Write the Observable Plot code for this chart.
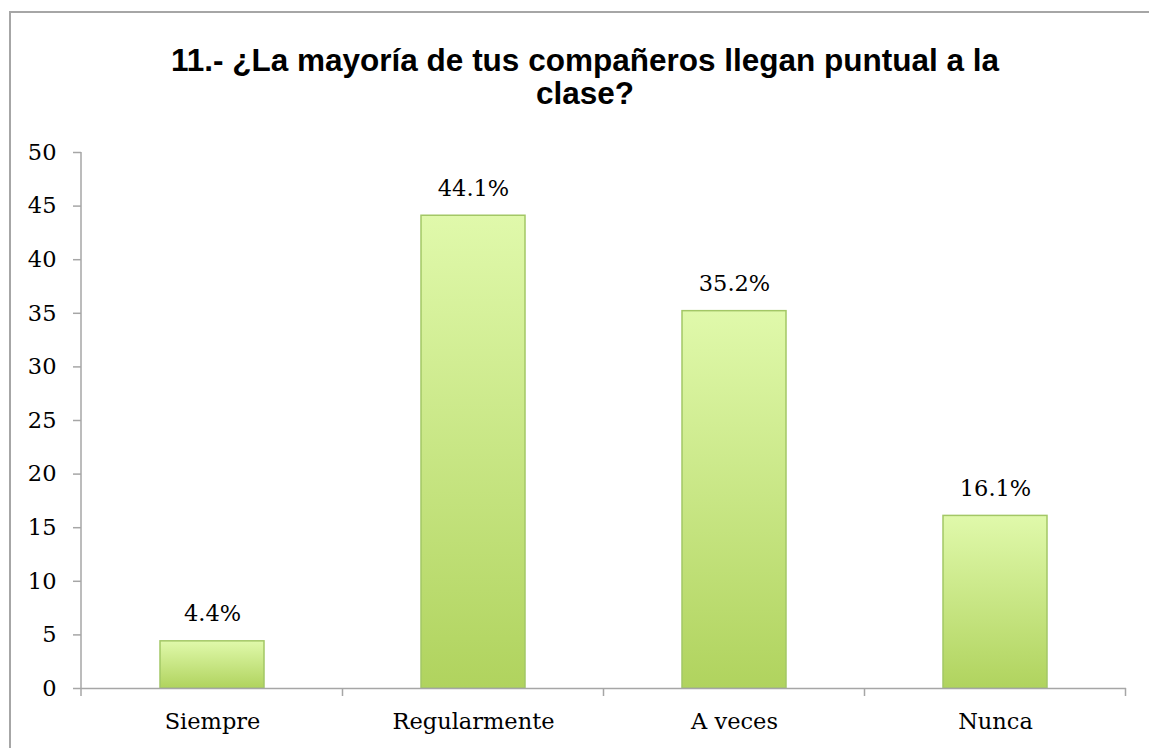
<!DOCTYPE html>
<html>
<head>
<meta charset="utf-8">
<script src="https://cdn.jsdelivr.net/npm/d3@7"></script>
<script src="https://cdn.jsdelivr.net/npm/@observablehq/plot@0.6"></script>
<style>
  html, body { margin: 0; padding: 0; background: #fff; }
  #wrap { position: relative; width: 1149px; height: 748px; overflow: hidden; background: #fff; }
  #frame { position: absolute; left: 9px; top: 11px; width: 1200px; height: 800px; border: 2px solid #a6a6a6; box-sizing: border-box; }
  #title { position: absolute; left: 0; top: 44px; width: 1170px; text-align: center;
           font-family: "Liberation Sans", Arial, sans-serif; font-weight: bold; font-size: 31.5px; line-height: 33px; color: #000; }
  #chart { position: absolute; left: 0; top: 130px; }
</style>
</head>
<body>
<div id="wrap">
  <div id="frame"></div>
  <div id="title">11.- ¿La mayoría de tus compañeros llegan puntual a la<br>clase?</div>
  <div id="chart"></div>
</div>
<script>
const categories = ["Siempre", "Regularmente", "A veces", "Nunca"];
const values = [4.4, 44.1, 35.2, 16.1];
const yTicks = [0, 5, 10, 15, 20, 25, 30, 35, 40, 45, 50];

const data = categories.map((c, i) => ({category: c, value: values[i]}));
const axisColor = "#a6a6a6";

// gradient definitions for bars
function defs() {
  const svg = d3.create("svg:g");
  const d = svg.append("defs");
  const g = d.append("linearGradient").attr("id", "barGrad")
    .attr("x1", 0).attr("y1", 0).attr("x2", 0).attr("y2", 1);
  g.append("stop").attr("offset", "0%").attr("stop-color", "#e0f9ab");
  g.append("stop").attr("offset", "100%").attr("stop-color", "#b0d35e");
  return svg.node();
}

// axis lines and category-boundary ticks (Excel style)
function axes(index, scales, values, dimensions) {
  const x = scales.x, y = scales.y;
  const g = d3.create("svg:g").attr("stroke", axisColor).attr("stroke-width", 1.5).attr("fill", "none");
  const left = dimensions.marginLeft;
  const right = dimensions.width - dimensions.marginRight;
  g.append("line").attr("x1", left).attr("x2", left).attr("y1", y(yTicks[0])).attr("y2", y(yTicks[yTicks.length - 1]));
  const step = x.step ? x.step() : (right - left) / x.domain().length;
  const bw = x.bandwidth ? x.bandwidth() : 0;
  const bounds = [left];
  x.domain().forEach(c => bounds.push(x(c) + bw / 2 + step / 2));
  const y0 = y(0);
  bounds.forEach(b => g.append("line").attr("x1", b).attr("x2", b).attr("y1", y0).attr("y2", y0 + 8));
  return g.node();
}

const chart = Plot.plot({
  width: 1149,
  height: 618,
  marginTop: 22,
  marginBottom: 60,
  marginLeft: 81,
  marginRight: 23,
  style: {fontFamily: "'DejaVu Serif', serif", fontSize: "22.5px", color: "#000", background: "transparent"},
  x: {domain: categories, paddingInner: 0.6, paddingOuter: 0.3, label: null},
  y: {domain: [0, 50], label: null},
  marks: [
    defs,
    Plot.barY(data, {x: "category", y: "value", fill: "url(#barGrad)", stroke: "#a3c766", strokeWidth: 1.5}),
    Plot.ruleY([0], {stroke: axisColor, strokeWidth: 1.5}),
    axes,
    Plot.axisY({ticks: yTicks, tickSize: 8, tickPadding: 17, stroke: axisColor, strokeWidth: 1.5, fill: "#000", label: null, tickFormat: d => String(d)}),
    Plot.axisX({tickSize: 0, tickPadding: 25, fill: "#000", label: null}),
    Plot.text(data, {x: "category", y: "value", text: d => d.value.toFixed(1) + "%", lineAnchor: "bottom", dy: -20, fill: "#000"})
  ]
});
document.getElementById("chart").appendChild(chart);
</script>
</body>
</html>
